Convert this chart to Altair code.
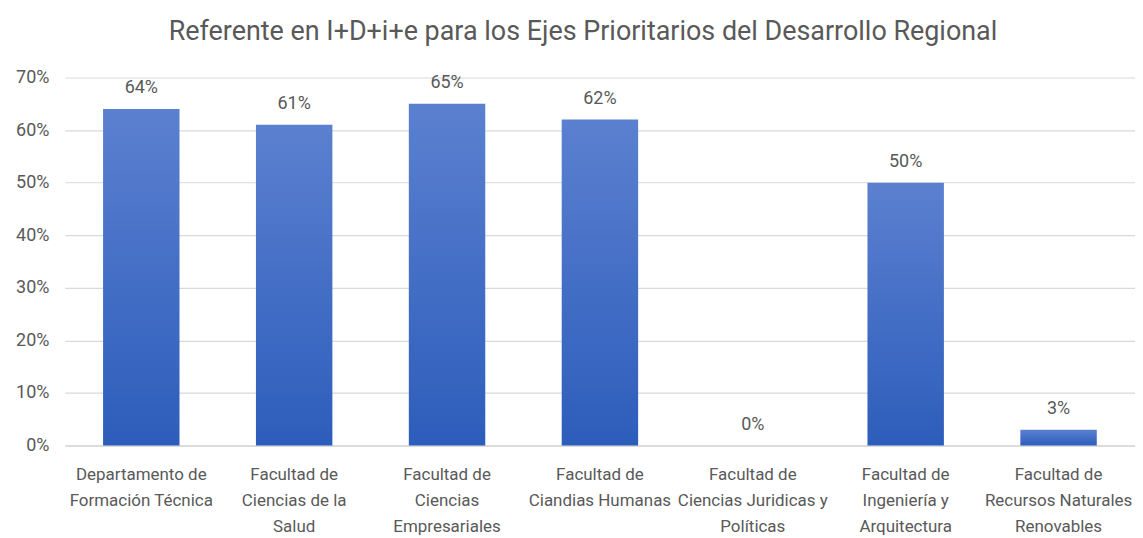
import altair as alt
import pandas as pd

categories = [
    "Departamento de\nFormación Técnica",
    "Facultad de\nCiencias de la\nSalud",
    "Facultad de\nCiencias\nEmpresariales",
    "Facultad de\nCiandias Humanas",
    "Facultad de\nCiencias Juridicas y\nPolíticas",
    "Facultad de\nIngeniería y\nArquitectura",
    "Facultad de\nRecursos Naturales\nRenovables",
]
values = [0.64, 0.61, 0.65, 0.62, 0.0, 0.50, 0.03]
y_ticks = [0, 0.1, 0.2, 0.3, 0.4, 0.5, 0.6, 0.7]

df = pd.DataFrame({"cat": categories, "val": values})

FONT = "Roboto, sans-serif"
GRAY = "#595959"

x = alt.X("cat:N", sort=None, title=None,
          scale=alt.Scale(paddingInner=0.5, paddingOuter=0.25),
          axis=alt.Axis(labelAngle=0, labelExpr="split(datum.value, '\\n')",
                        labelFontSize=17, labelColor=GRAY, labelFont=FONT,
                        labelLineHeight=26, labelPadding=21, ticks=False,
                        domainColor="#d9d9d9", domainWidth=1.5, labelLimit=300))
y = alt.Y("val:Q", title=None,
          scale=alt.Scale(domain=[0, 0.7], nice=False),
          axis=alt.Axis(values=y_ticks, format=".0%", labelFontSize=18,
                        labelColor=GRAY, labelFont=FONT, ticks=False,
                        domain=False, gridColor="#d9d9d9", gridWidth=1.2,
                        labelPadding=16))

bars = alt.Chart(df).mark_bar(
    color=alt.Gradient(gradient="linear", x1=0, x2=0, y1=0, y2=1,
                       stops=[alt.GradientStop(color="#5b80d0", offset=0),
                              alt.GradientStop(color="#2d5dbb", offset=1)])
).encode(x=x, y=y)

text = alt.Chart(df).mark_text(
    baseline="bottom", dy=-12, fontSize=18, color=GRAY, font=FONT
).encode(x=alt.X("cat:N", sort=None), y="val:Q",
         text=alt.Text("val:Q", format=".0%"))

chart = alt.layer(bars, text).properties(
    width=1073, height=369,
    title=alt.TitleParams("Referente en I+D+i+e para los Ejes Prioritarios del Desarrollo Regional",
                          fontSize=27, font=FONT, color=GRAY, fontWeight="normal",
                          anchor="middle", offset=23, dx=-17),
    autosize=alt.AutoSizeParams(type="none"),
    padding={"left": 57, "top": 69, "right": 0, "bottom": 90},
).configure_view(stroke=None)

chart.save("out.html", embed_options={"renderer": "svg", "actions": False})
